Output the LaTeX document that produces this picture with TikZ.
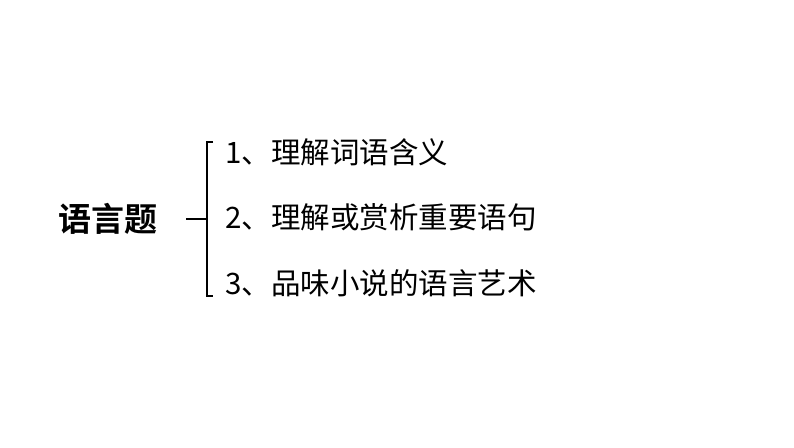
\documentclass[tikz,border=0pt]{standalone}
\usepackage{fontspec}
\setmainfont{Noto Sans CJK SC}
\newfontfamily\cjk{Noto Sans CJK SC}
\newfontfamily\cjkbold{Noto Sans CJK SC Bold}
\usetikzlibrary{positioning,calc}

\tikzset{
    item/.style={anchor=base west, inner sep=0pt, font=\cjk\fontsize{29.5}{29.5}\selectfont},
    title/.style={anchor=base, inner sep=0pt, font=\cjkbold\fontsize{33}{33}\selectfont},
    brace/.style={line width=1.6pt}
}

\begin{document}
\begin{tikzpicture}[x=1pt,y=-1pt]
    \useasboundingbox (0,0) rectangle (794,447);

    % Title
    \node [title] (lang) at (108,231) {语言题};

    % Items
    \node [item] (it1) at (225,163) {1、理解词语含义};
    \node [item] (it2) at (225,228) {2、理解或赏析重要语句};
    \node [item] (it3) at (225,294) {3、品味小说的语言艺术};

    % Brace
    \coordinate (btop) at (213,142);
    \coordinate (bbot) at (213,296);
    \coordinate (bmid) at (207,219);
    \coordinate (tick) at (186,219);
    \draw [brace] (btop) -- (207,142) -- (207,296) -- (bbot);
    \draw [brace] (tick) -- (bmid);

\end{tikzpicture}
\end{document}
